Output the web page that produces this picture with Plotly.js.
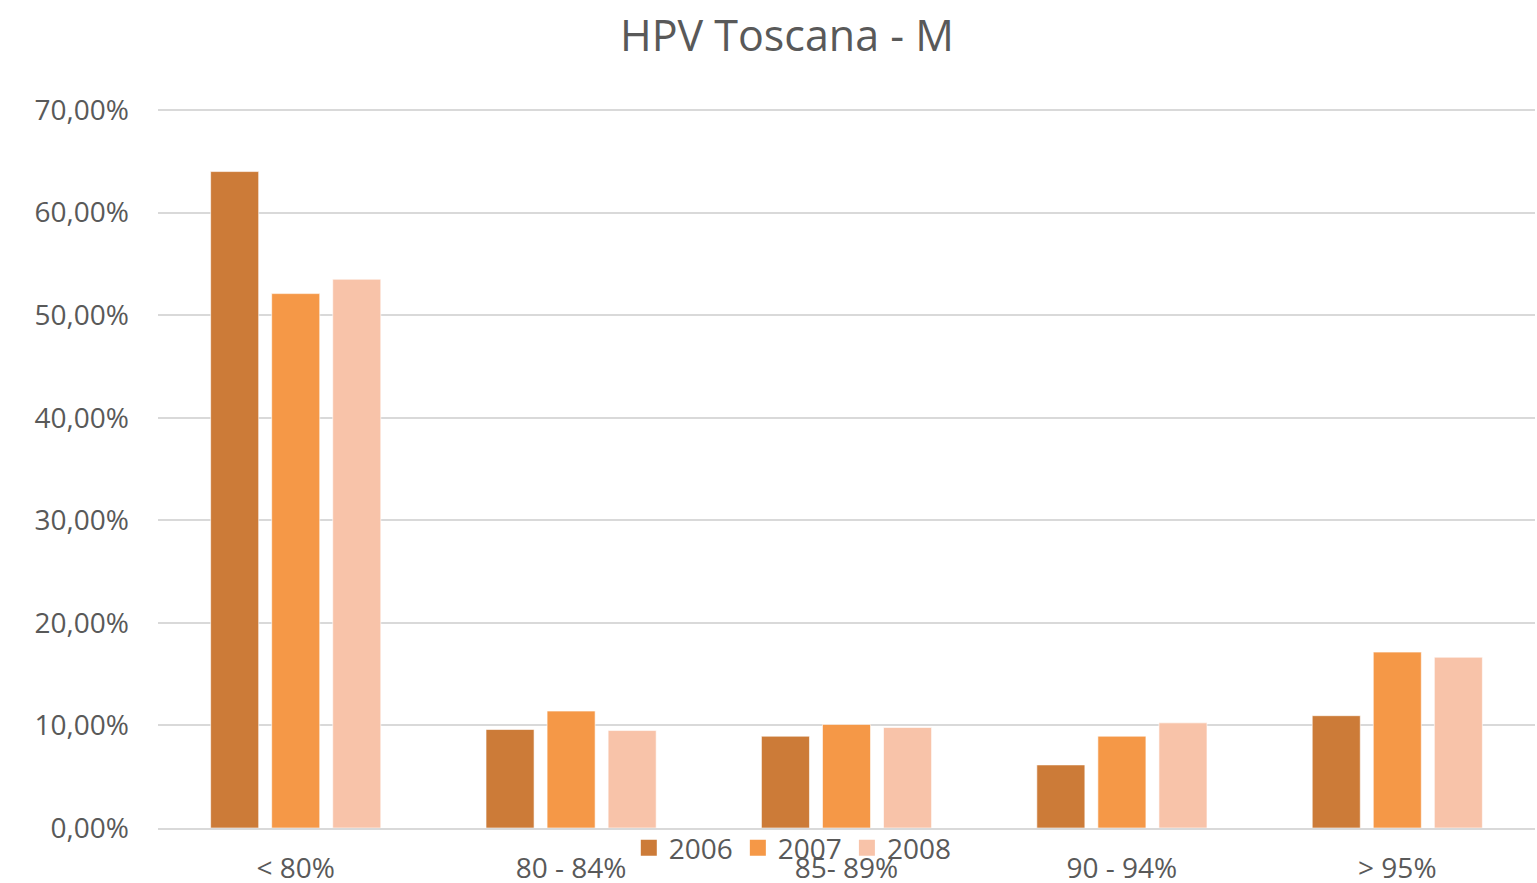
<!DOCTYPE html>
<html>
<head>
<meta charset="utf-8">
<script src="https://cdn.plot.ly/plotly-3.0.1.min.js"></script>
<style>
  html, body { margin: 0; padding: 0; background: #fff; }
  #grafico { width: 1537px; height: 883px; }
</style>
</head>
<body>
<div id="grafico"></div>
<script>
// Fasce di copertura
const categorie = ["< 80%", "80 - 84%", "85- 89%", "90 - 94%", "> 95%"];

// Percentuali per anno
const anni = ["2006", "2007", "2008"];
const valori2006 = [64.0, 9.6, 8.95, 6.15, 10.95];
const valori2007 = [52.1, 11.4, 10.1, 8.95, 17.15];
const valori2008 = [53.5, 9.5, 9.8, 10.25, 16.65];

const colori = ["#CC7B38", "#F59847", "#F8C3A9"];
const serie = [valori2006, valori2007, valori2008];

const barre = serie.map((vals, i) => ({
    type: 'bar',
    name: anni[i],
    x: categorie,
    y: vals,
    showlegend: false,
    marker: {
        color: colori[i],
        line: { color: 'rgba(255,255,255,0.6)', width: 1 }
    },
    hovertemplate: '%{x}: %{y:.2f}%<extra>' + anni[i] + '</extra>'
}));

// voci di legenda con quadratini più grandi
const legenda = anni.map((a, i) => ({
    type: 'scatter',
    mode: 'markers',
    name: a,
    x: [null],
    y: [null],
    marker: { symbol: 'square', size: 18, color: colori[i] },
    hoverinfo: 'skip'
}));

// etichette asse y in formato italiano
const tickVals = [0, 10, 20, 30, 40, 50, 60, 70];
const tickTesti = tickVals.map(v => v.toFixed(2).replace('.', ',') + '%');

const layout = {
    width: 1537,
    height: 883,
    margin: { l: 158, r: 2, t: 109, b: 55 },
    paper_bgcolor: '#ffffff',
    plot_bgcolor: '#ffffff',
    font: { family: 'Open Sans, sans-serif', color: '#595959', size: 28 },
    title: {
        text: 'HPV Toscana - M',
        font: { size: 43, color: '#595959' },
        x: 0.512,
        xanchor: 'center',
        y: 0.959,
        yanchor: 'middle'
    },
    barmode: 'group',
    bargap: 0.335,
    bargroupgap: 0.213,
    xaxis: {
        type: 'category',
        showgrid: false,
        showline: true,
        linecolor: '#d9d9d9',
        linewidth: 2,
        ticks: '',
        ticklabelstandoff: 14,
        tickfont: { size: 28, color: '#595959' }
    },
    yaxis: {
        range: [0, 70.1],
        tickvals: tickVals,
        ticktext: tickTesti,
        showgrid: true,
        gridcolor: '#d9d9d9',
        gridwidth: 2,
        zeroline: false,
        showline: false,
        ticks: '',
        ticklabelstandoff: 28,
        tickfont: { size: 28, color: '#595959' }
    },
    showlegend: true,
    legend: {
        orientation: 'h',
        x: 0.461,
        xanchor: 'center',
        y: -0.028,
        yanchor: 'middle',
        bgcolor: 'rgba(0,0,0,0)',
        font: { size: 28, color: '#595959' },
        itemwidth: 30,
        tracegroupgap: 0
    }
};

Plotly.newPlot('grafico', barre.concat(legenda), layout, { displayModeBar: false, staticPlot: true });
</script>
</body>
</html>
